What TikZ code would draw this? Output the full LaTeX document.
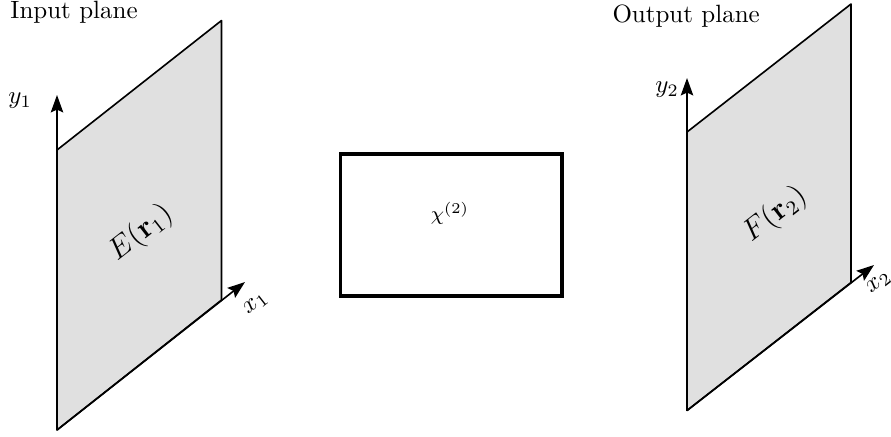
\documentclass[tikz,border=0pt]{standalone}
\usepackage{amsmath}
\usepackage{amssymb}
\usepackage{tikz}
\usetikzlibrary{arrows.meta, positioning, calc}
\definecolor{planeGray}{RGB}{224, 224, 224}

\begin{document}
\begin{tikzpicture}[
        x=0.4pt, y=-0.4pt,
        plane/.style={draw=black, fill=planeGray, line width=0.65pt, line join=round},
        axis/.style={-{Stealth[length=7pt, width=5pt, inset=1.2pt]}, line width=0.65pt},
        crystalbox/.style={rectangle, draw=black, line width=1.4pt, minimum width=88.6pt, minimum height=56.7pt, inner sep=0pt},
        title/.style={anchor=base west, inner sep=0pt},
        lbl/.style={inner sep=0pt}
    ]
    \useasboundingbox (0,0) rectangle (891,436);

    % Input plane
    \coordinate (in1) at (57,430);
    \coordinate (in2) at (221.5,300);
    \coordinate (in3) at (221.5,20.5);
    \coordinate (in4) at (57,150);
    \coordinate (ytip1) at (57,95);
    \coordinate (xtip1) at (245,282);
    \draw[plane] (in1) -- (in2) -- (in3) -- (in4) -- cycle;
    \draw[axis] (in1) -- (ytip1);
    \draw[axis] (in1) -- (xtip1);
    \node[title] (intitle) at (10,18) {Input plane};
    \node[lbl] (ylab1) at (20,101) {$y_1$};
    \node[lbl, rotate=38] (xlab1) at (256,304) {$x_1$};
    \node[lbl, rotate=38, font=\large] (field1) at (141,233) {$E(\mathbf{r}_1)$};

    % Nonlinear medium
    \node[crystalbox] (crystal) at (451,225) {};
    \node[lbl, font=\footnotesize] (chi) at (450,213) {$\chi^{(2)}$};

    % Output plane
    \coordinate (out1) at (687,410.5);
    \coordinate (out2) at (851,282.5);
    \coordinate (out3) at (851,4);
    \coordinate (out4) at (687,132);
    \coordinate (ytip2) at (687,78);
    \coordinate (xtip2) at (874,265);
    \draw[plane] (out1) -- (out2) -- (out3) -- (out4) -- cycle;
    \draw[axis] (out1) -- (ytip2);
    \draw[axis] (out1) -- (xtip2);
    \node[title] (outtitle) at (612,22) {Output plane};
    \node[lbl] (ylab2) at (667,90) {$y_2$};
    \node[lbl, rotate=38] (xlab2) at (879,283) {$x_2$};
    \node[lbl, rotate=38, font=\large] (field2) at (775,215) {$F(\mathbf{r}_2)$};
\end{tikzpicture}
\end{document}
